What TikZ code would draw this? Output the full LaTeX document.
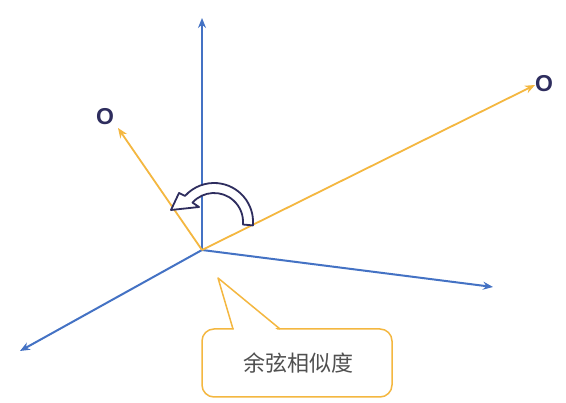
\documentclass[tikz,border=0pt]{standalone}
\usepackage{fontspec}
\newfontfamily\cjk{Noto Sans CJK SC}
\newfontfamily\lbl{Liberation Sans}
\usetikzlibrary{arrows.meta}
\definecolor{axisblue}{RGB}{68,114,196}
\definecolor{vecyellow}{RGB}{244,183,64}
\definecolor{navy}{RGB}{46,45,94}
\definecolor{textgray}{RGB}{80,80,80}
\tikzset{
  axis/.style={draw=axisblue, line width=2pt, -{Stealth[length=10pt,width=8pt]}},
  vec/.style={draw=vecyellow, line width=1.8pt, -{Stealth[length=10pt,width=8pt]}},
  pointlabel/.style={font=\lbl\bfseries\fontsize{23}{23}\selectfont, text=navy, inner sep=0pt},
  callout/.style={draw=vecyellow, line width=1.5pt, fill=white, rounded corners=12pt},
  turnarrow/.style={draw=navy, line width=1.8pt, fill=white, line join=round}
}
\begin{document}
\begin{tikzpicture}[x=1pt,y=1pt]
\useasboundingbox (0,0) rectangle (566,403);
\fill[white] (0,0) rectangle (566,403);
% coordinates
\coordinate (O) at (202,153);
\coordinate (up) at (202,385);
\coordinate (ll) at (20,52);
\coordinate (rt) at (493,116);
\coordinate (va) at (535,318);
\coordinate (vb) at (118,275);
% axes
\draw[axis] (O) -- (up);
\draw[axis] (O) -- (ll);
\draw[axis] (O) -- (rt);
% vectors
\draw[vec] (O) -- (va);
\draw[vec] (O) -- (vb);
% labels
\node[pointlabel] (la) at (544,319) {O};
\node[pointlabel] (lb) at (105,286) {O};
% curved hollow arrow
\coordinate (C) at (214,181);
\draw[turnarrow] (252.9,177.6) arc[start angle=-5, end angle=138, radius=39pt]
  -- (179,210) -- (171,193) -- (199,196) -- (192.5,200.4)
  arc[start angle=138, end angle=-5, radius=29pt] -- cycle;
% callout
\draw[callout] (202,6) rectangle (392,74);
\fill[white] (234.5,72) -- (218,125) -- (278.5,72) -- cycle;
\draw[draw=vecyellow, line width=1.5pt, line join=round] (233,74) -- (218,125) -- (280,74);
\node[font=\cjk\fontsize{22}{22}\selectfont, text=textgray] (txt) at (298,40) {余弦相似度};
\end{tikzpicture}
\end{document}
